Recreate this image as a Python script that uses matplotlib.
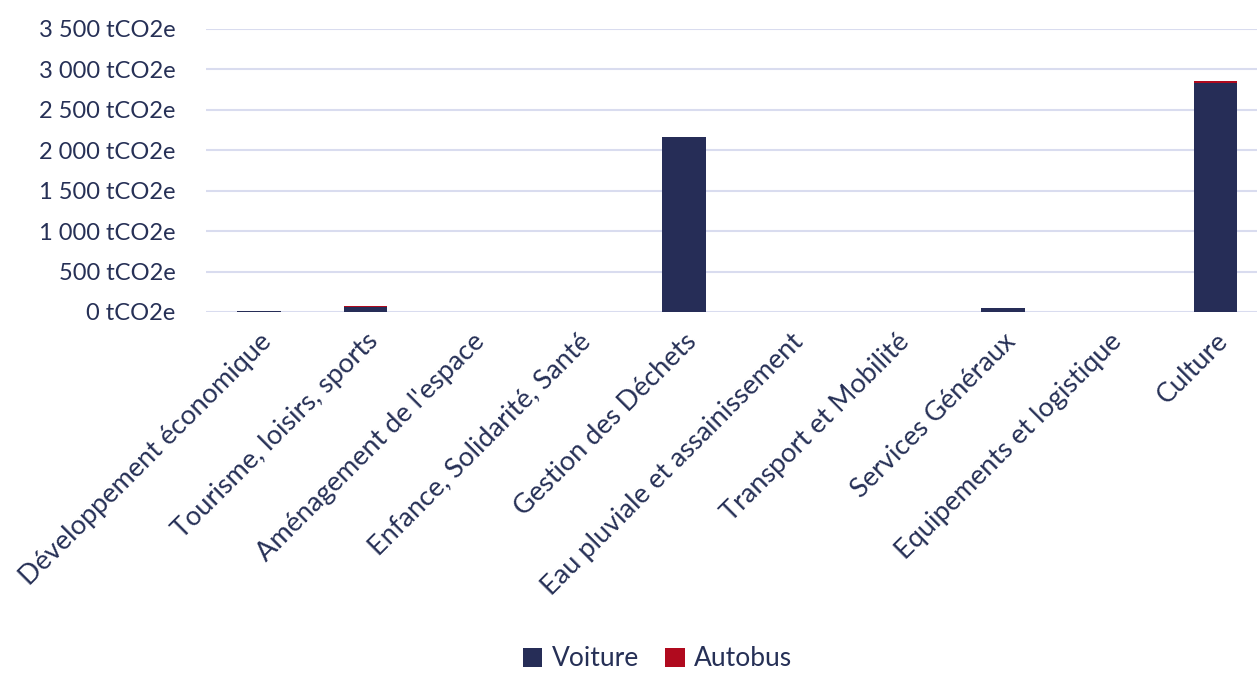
import matplotlib.pyplot as plt
import numpy as np

categories = ["Développement économique", "Tourisme, loisirs, sports", "Aménagement de l'espace",
              "Enfance, Solidarité, Santé", "Gestion des Déchets", "Eau pluviale et assainissement",
              "Transport et Mobilité", "Services Généraux", "Equipements et logistique", "Culture"]
voiture = [10, 60, 0, 0, 2170, 0, 0, 45, 0, 2830]
autobus = [0, 12, 0, 0, 0, 0, 0, 0, 0, 28]
yticks = [0, 500, 1000, 1500, 2000, 2500, 3000, 3500]

navy = '#262D57'
red = '#B00A1E'
text_col = '#263056'
grid_col = '#D9DCEF'

plt.rcParams['font.family'] = ['Lato', 'DejaVu Sans']

fig = plt.figure(figsize=(12.57, 6.75), dpi=100)
ax = fig.add_axes([206 / 1257, 1 - 312 / 675, 1 - 206 / 1257, (312 - 29) / 675])

x = np.arange(len(categories))
ax.bar(x, voiture, width=0.41, color=navy, label='Voiture', zorder=3)
ax.bar(x, autobus, width=0.41, bottom=voiture, color=red, label='Autobus', zorder=3)

ax.set_ylim(0, 3500)
ax.set_xlim(-0.5, 9.39)
ax.set_yticks(yticks)
ax.set_yticklabels([f"{v:,} tCO2e".replace(',', ' ') for v in yticks])
ax.yaxis.grid(True, color=grid_col, linewidth=1.5, zorder=0)
ax.set_axisbelow(True)
for s in ax.spines.values():
    s.set_visible(False)
ax.tick_params(axis='y', length=0, labelsize=17, labelcolor=text_col, pad=22)
ax.tick_params(axis='x', length=0, labelsize=19.5, labelcolor=text_col, pad=12)

ax.set_xticks(x)
ax.set_xticklabels(categories, rotation=45, ha='right', rotation_mode='anchor')

fig.legend(loc='lower center', bbox_to_anchor=(0.523, -0.022), ncol=2, frameon=False,
           fontsize=19, labelcolor=text_col, handlelength=0.75, handleheight=0.75,
           handletextpad=0.35, columnspacing=1.0, borderpad=0.2)

fig.savefig('out.png', dpi=100)
